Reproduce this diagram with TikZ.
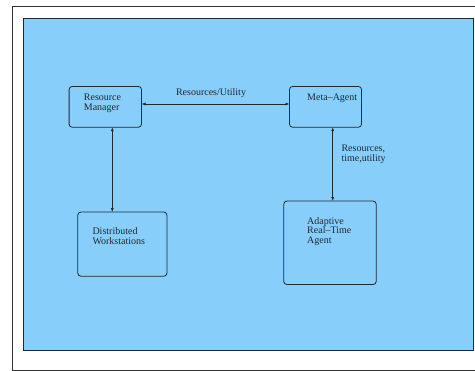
\documentclass[tikz,border=0pt]{standalone}
\usepackage{fontspec}
\setmainfont{Liberation Serif}
\usetikzlibrary{arrows.meta}
\definecolor{skyfill}{HTML}{87CEFA}
\definecolor{inkline}{HTML}{1E2A33}
\begin{document}
\begin{tikzpicture}[x=1pt,y=-1pt,
  blockbox/.style={draw=inkline,line width=0.8pt,rounded corners=3pt},
  lbl/.style={anchor=base west,inner sep=0pt,align=left,font=\fontsize{10}{9.8}\selectfont,text=inkline},
  link/.style={draw=inkline,line width=0.7pt,{Latex[length=4pt,width=3pt]}-{Latex[length=4pt,width=3pt]}}]
  \useasboundingbox (0,0) rectangle (475,371);
  % outer frame and blue panel
  \draw[line width=0.7pt,draw=black!80] (12,6) rectangle (477,370);
  \draw[fill=skyfill,draw=inkline,line width=0.7pt] (23.3,18) rectangle (473.3,350);
  % boxes
  \node[inner sep=0pt,minimum width=72pt,minimum height=40.3pt] (rmbox) at (105.3,106.85) {};
  \draw[blockbox] (rmbox.north west) rectangle (rmbox.south east);
  \node[inner sep=0pt,minimum width=71.6pt,minimum height=40.3pt] (mabox) at (325.5,106.85) {};
  \draw[blockbox] (mabox.north west) rectangle (mabox.south east);
  \node[inner sep=0pt,minimum width=88.7pt,minimum height=63.7pt] (dwbox) at (122.35,244.15) {};
  \draw[blockbox] (dwbox.north west) rectangle (dwbox.south east);
  \node[inner sep=0pt,minimum width=92pt,minimum height=83pt] (arbox) at (330,242.8) {};
  \draw[blockbox] (arbox.north west) rectangle (arbox.south east);
  % box texts (anchored at the baseline of the last line)
  \node[lbl] (rmtext) at (83.7,110.3) {Resource\\Manager};
  \node[lbl] (matext) at (307,100.7) {Meta--Agent};
  \node[lbl] (dwtext) at (92.3,244.3) {Distributed\\Workstations};
  \node[lbl] (artext) at (307,243.7) {Adaptive\\Real--Time\\Agent};
  % connectors
  \coordinate (h1) at (rmbox.east |- 0,104);
  \coordinate (h2) at (mabox.west |- 0,104);
  \draw[link] (h1) -- (h2);
  \coordinate (v1) at (rmbox.south -| 112.3,0);
  \coordinate (v2) at (dwbox.north -| 112.3,0);
  \draw[link] (v1) -- (v2);
  \coordinate (w1) at (mabox.south -| 332.7,0);
  \coordinate (w2) at (arbox.north -| 332.7,0);
  \draw[link] (w1) -- (w2);
  % connector labels
  \node[anchor=base,inner sep=0pt,font=\fontsize{10}{9.8}\selectfont,text=inkline] (hl) at (211,95.5) {Resources/Utility};
  \node[lbl] (vl) at (341.3,161.7) {Resources,\\time,utility};
\end{tikzpicture}
\end{document}
